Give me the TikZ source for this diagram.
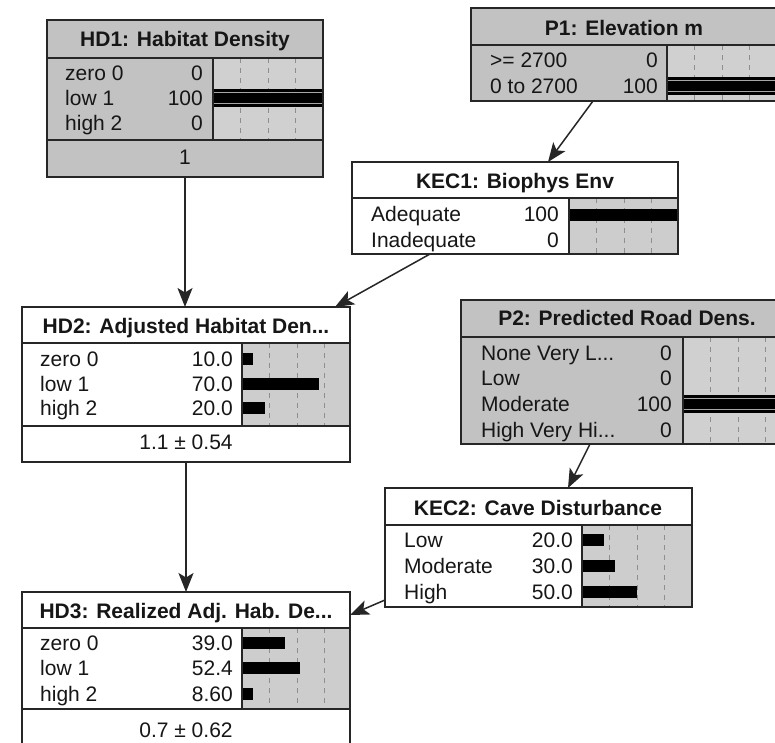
\documentclass[tikz,border=0pt]{standalone}
\usepackage{fontspec}
\setmainfont{Liberation Sans}
\usetikzlibrary{arrows.meta,calc}
\definecolor{gbox}{HTML}{C2C2C2}
\definecolor{gbar}{HTML}{D0D0D0}
\definecolor{wbar}{HTML}{CDCDCD}
\definecolor{tickc}{HTML}{8E8E8E}
\definecolor{linec}{HTML}{262626}
\definecolor{txtc}{HTML}{161616}
\tikzset{
  frame/.style={draw=linec, line width=1.5pt, inner sep=0pt, outer sep=0pt, anchor=north west, rectangle},
  sep/.style={draw=linec, line width=1.5pt},
  ttl/.style={font=\fontsize{21}{25}\selectfont\bfseries, text=txtc, inner sep=0pt, anchor=base},
  lbl/.style={font=\fontsize{21}{25}\selectfont, text=txtc, inner sep=0pt, anchor=base west},
  val/.style={font=\fontsize{21}{25}\selectfont, text=txtc, inner sep=0pt, anchor=base east},
  ftr/.style={font=\fontsize{21}{25}\selectfont, text=txtc, inner sep=0pt, anchor=base},
  tickline/.style={draw=tickc, line width=0.7pt, dash pattern=on 5pt off 5pt},
  arr/.style={draw=linec, line width=1.5pt, -{Stealth[length=19pt,width=15pt,inset=4.5pt]}},
}
\newcommand\bnticks[3]{\foreach \k in {1,2,3} \draw[tickline] ({#1+27.5*\k},#2) -- ({#1+27.5*\k},#3);}
\newcommand\bnbar[3]{\fill[black] (#1,{#2-6}) rectangle ({#1+#3},{#2+6});}
\newcommand\bnfull[2]{\fill[black] (#1,{#2-9}) rectangle ({#1+110},{#2+9});
  \draw[gray!70,line width=0.8pt] (#1,{#2-5.5}) -- ({#1+110},{#2-5.5}) (#1,{#2+5.5}) -- ({#1+110},{#2+5.5});}
\begin{document}
\begin{tikzpicture}[x=1pt,y=-1pt]
\useasboundingbox (0,0) rectangle (775,742);
\clip (0,0) rectangle (775,742);
\fill[white] (0,0) rectangle (775,742);

% ---------- HD1 ----------
\fill[gbox] (47,20) rectangle (323,177);
\fill[gbar] (213,58) rectangle (323,140);
\bnticks{213}{58}{140}
\bnfull{213}{98}
\draw[sep] (47,58) -- (323,58) (47,140) -- (323,140) (213,58) -- (213,140);
\node[frame, minimum width=276pt, minimum height=157pt] (hd1) at (47,20) {};
\node[ttl] (hd1t) at (185,46) {HD1: Habitat Density};
\node[lbl] (hd1l1) at (65,80) {zero 0};  \node[val] (hd1v1) at (203,80) {0};
\node[lbl] (hd1l2) at (65,105) {low 1};  \node[val] (hd1v2) at (203,105) {100};
\node[lbl] (hd1l3) at (65,130) {high 2}; \node[val] (hd1v3) at (203,130) {0};
\node[ftr] (hd1f) at (185,164) {1};

% ---------- P1 ----------
\fill[gbox] (471,8) rectangle (777,101);
\fill[gbar] (667,45) rectangle (777,101);
\bnticks{667}{45}{101}
\bnfull{667}{86}
\draw[sep] (471,45) -- (777,45) (667,45) -- (667,101);
\node[frame, minimum width=306pt, minimum height=93pt] (p1) at (471,8) {};
\node[ttl] (p1t) at (624,35) {P1: Elevation m};
\node[lbl] (p1l1) at (490,67) {>= 2700};    \node[val] (p1v1) at (658,67) {0};
\node[lbl] (p1l2) at (490,93) {0 to 2700};  \node[val] (p1v2) at (658,93) {100};

% ---------- KEC1 ----------
\fill[white] (352,162) rectangle (678,254);
\fill[wbar] (569,198) rectangle (678,254);
\bnticks{569}{198}{254}
\bnbar{569}{215}{109}
\draw[sep] (352,198) -- (678,198) (569,198) -- (569,254);
\node[frame, minimum width=326pt, minimum height=92pt] (kec1) at (352,162) {};
\node[ttl] (kec1t) at (515,188) {KEC1: Biophys Env};
\node[lbl] (kec1l1) at (371,221) {Adequate};   \node[val] (kec1v1) at (559,221) {100};
\node[lbl] (kec1l2) at (371,247) {Inadequate}; \node[val] (kec1v2) at (559,247) {0};

% ---------- HD2 ----------
\fill[white] (22,307) rectangle (350,462);
\fill[wbar] (242,343) rectangle (350,426);
\bnticks{242}{343}{426}
\bnbar{242}{359}{11}
\bnbar{242}{384}{77}
\bnbar{242}{408}{23}
\draw[sep] (22,343) -- (350,343) (22,426) -- (350,426) (242,343) -- (242,426);
\node[frame, minimum width=328pt, minimum height=155pt] (hd2) at (22,307) {};
\node[ttl] (hd2t) at (186,333) {HD2: Adjusted Habitat Den...};
\node[lbl] (hd2l1) at (40,366) {zero 0}; \node[val] (hd2v1) at (233,366) {10.0};
\node[lbl] (hd2l2) at (40,391) {low 1};  \node[val] (hd2v2) at (233,391) {70.0};
\node[lbl] (hd2l3) at (40,415) {high 2}; \node[val] (hd2v3) at (233,415) {20.0};
\node[ftr] (hd2f) at (186,449) {1.1 ± 0.54};

% ---------- P2 ----------
\fill[gbox] (461,300) rectangle (793,444);
\fill[gbar] (683,337) rectangle (793,444);
\bnticks{683}{337}{444}
\bnfull{683}{404}
\draw[sep] (461,337) -- (793,337) (683,337) -- (683,444);
\node[frame, minimum width=332pt, minimum height=144pt] (p2) at (461,300) {};
\node[ttl] (p2t) at (627,325) {P2: Predicted Road Dens.};
\node[lbl] (p2l1) at (481,360) {None Very L...}; \node[val] (p2v1) at (672,360) {0};
\node[lbl] (p2l2) at (481,385) {Low};            \node[val] (p2v2) at (672,385) {0};
\node[lbl] (p2l3) at (481,411) {Moderate};       \node[val] (p2v3) at (672,411) {100};
\node[lbl] (p2l4) at (481,437) {High Very Hi...};\node[val] (p2v4) at (672,437) {0};

% ---------- KEC2 ----------
\fill[white] (385,488) rectangle (692,607);
\fill[wbar] (582,525) rectangle (692,607);
\bnticks{582}{525}{607}
\bnbar{582}{540}{22}
\bnbar{582}{566}{33}
\bnbar{582}{592}{55}
\draw[sep] (385,525) -- (692,525) (582,525) -- (582,607);
\node[frame, minimum width=307pt, minimum height=119pt] (kec2) at (385,488) {};
\node[ttl] (kec2t) at (538,515) {KEC2: Cave Disturbance};
\node[lbl] (kec2l1) at (404,547) {Low};      \node[val] (kec2v1) at (573,547) {20.0};
\node[lbl] (kec2l2) at (404,573) {Moderate}; \node[val] (kec2v2) at (573,573) {30.0};
\node[lbl] (kec2l3) at (404,599) {High};     \node[val] (kec2v3) at (573,599) {50.0};

% ---------- HD3 ----------
\fill[white] (22,592) rectangle (350,752);
\fill[wbar] (242,628) rectangle (350,709);
\bnticks{242}{628}{709}
\bnbar{242}{643}{43}
\bnbar{242}{668}{58}
\bnbar{242}{694}{11}
\draw[sep] (22,628) -- (350,628) (22,709) -- (350,709) (242,628) -- (242,709);
\node[frame, minimum width=328pt, minimum height=160pt] (hd3) at (22,592) {};
\node[ttl] (hd3t) at (186,618) {HD3: Realized Adj. Hab. De...};
\node[lbl] (hd3l1) at (40,650) {zero 0}; \node[val] (hd3v1) at (233,650) {39.0};
\node[lbl] (hd3l2) at (40,675) {low 1};  \node[val] (hd3v2) at (233,675) {52.4};
\node[lbl] (hd3l3) at (40,701) {high 2}; \node[val] (hd3v3) at (233,701) {8.60};
\node[ftr] (hd3f) at (186,737) {0.7 ± 0.62};

% ---------- connectors ----------
\draw[arr] (hd1.south) -- (hd1.south |- hd2.north);
\draw[arr] ($(p1.south west)+(122,0)$) -- ($(kec1.north west)+(196,0)$);
\draw[arr] ($(kec1.south west)+(78,0)$) -- ($(hd2.north east)+(-15,0)$);
\draw[arr] (hd2.south) -- (hd2.south |- hd3.north);
\draw[arr] ($(p2.south west)+(129,0)$) -- ($(kec2.north west)+(183,0)$);
\draw[arr] ($(kec2.south west)+(0,-7)$) -- ($(hd3.north east)+(0,23)$);
\end{tikzpicture}
\end{document}
